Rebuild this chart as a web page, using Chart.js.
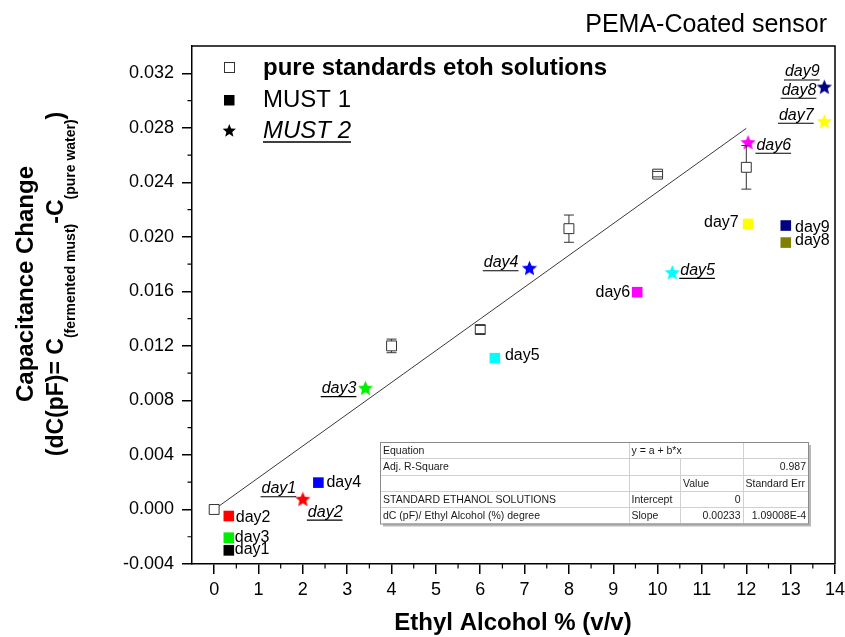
<!DOCTYPE html>
<html><head><meta charset="utf-8">
<script src="https://cdn.jsdelivr.net/npm/chart.js@4.4.0/dist/chart.umd.min.js"></script>
<style>html,body{margin:0;padding:0;background:#fff}#wrap{width:845px;height:637px;position:relative}</style>
</head><body><div id="wrap"><canvas id="c" width="845" height="637"></canvas></div>
<script>
// ---------- data ----------
const stdX   = [0, 4, 6, 8, 10, 12];
const stdY   = [0, 0.0120, 0.0132, 0.0206, 0.0246, 0.0251];
const stdErr = [0, 0.0005, 0.0003, 0.0010, 0.0002, 0.0016];
const fitX = [0, 12];
const fitY = [0, 0.02796];
const must1X = [0.33, 0.33, 0.33, 2.35, 6.33, 9.54, 12.04, 12.89, 12.89];
const must1Y = [-0.0030, -0.00207, -0.00048, 0.00197, 0.0111, 0.01594, 0.02095, 0.02083, 0.01958];
const must1Labels = ['day1', 'day3', 'day2', 'day4', 'day5', 'day6', 'day7', 'day9', 'day8'];
const must2X = [2.0, 3.41, 7.11, 10.33, 12.04, 13.76, 13.76];
const must2Y = [0.00075, 0.0089, 0.0177, 0.01738, 0.02692, 0.02846, 0.03099];
const must2Labels = ['day1', 'day2', 'day3', 'day4', 'day5', 'day6', 'day7', 'day8', 'day9'];
const must2LabelPoint = [0, 0, 1, 2, 3, 4, 5, 6, 6];
const xTicks = [0, 1, 2, 3, 4, 5, 6, 7, 8, 9, 10, 11, 12, 13, 14];
const yTicks = [-0.004, 0, 0.004, 0.008, 0.012, 0.016, 0.020, 0.024, 0.028, 0.032];
const seriesNames = ['pure standards etoh solutions', 'MUST 1', 'MUST 2'];
const tableRows = [
  ['Equation', 'y = a + b*x', '', ''],
  ['Adj. R-Square', '', '', '0.987'],
  ['', '', 'Value', 'Standard Err'],
  ['STANDARD ETHANOL SOLUTIONS', 'Intercept', '0', ''],
  ['dC (pF)/ Ethyl Alcohol (%) degree', 'Slope', '0.00233', '1.09008E-4']
];

// ---------- styles ----------
const must1Colors = ['#000000', '#00ee00', '#ff0000', '#0000ff', '#00ffff', '#ff00ff', '#ffff00', '#000080', '#808000'];
const must2Colors = ['#ff0000', '#00ee00', '#0000ff', '#00ffff', '#ff00ff', '#ffff00', '#000080'];
// label placement: [dx, dy(baseline), align]
const must1LabelPos = [[6,4,'left'],[6,4,'left'],[7,5.5,'left'],[8,4,'left'],[10,2,'left'],[-7,4.4,'right'],[-9.4,2.7,'right'],[9.3,6,'left'],[9.3,2.3,'left']];
const must2LabelPos = [[-6.6,-6,'right'],[5,17.4,'left'],[-9,5,'right'],[-11,-1,'right'],[8,2.3,'left'],[8.3,7.3,'left'],[-10.7,-1.7,'right'],[-8,7.7,'right'],[-4.7,-10.6,'right']];

const FONT = "'Liberation Sans', Arial, Helvetica, sans-serif";
Chart.defaults.font.family = FONT;
Chart.defaults.color = '#000';

function starPath(ctx, cx, cy, R, r) {
  ctx.beginPath();
  for (let i = 0; i < 10; i++) {
    const rad = i % 2 === 0 ? R : r;
    const a = -Math.PI / 2 + i * Math.PI / 5;
    const px = cx + rad * Math.cos(a), py = cy + rad * Math.sin(a);
    if (i === 0) ctx.moveTo(px, py); else ctx.lineTo(px, py);
  }
  ctx.closePath();
}
function makeStar(color) {
  const c = document.createElement('canvas');
  c.width = 17; c.height = 17;
  const g = c.getContext('2d');
  starPath(g, 8.5, 9, 8, 3.6);
  g.fillStyle = color; g.fill();
  return c;
}
const starImgs = must2Colors.map(makeStar);

const pts = (xs, ys) => xs.map((x, i) => ({ x: x, y: ys[i] }));

const framePlugin = {
  id: 'frame',
  beforeDatasetsDraw(chart) {
    const { ctx, chartArea: a, scales: { x, y } } = chart;
    ctx.save();
    ctx.strokeStyle = '#000';
    ctx.lineWidth = 1.5;
    ctx.beginPath();
    ctx.moveTo(a.left, a.top); ctx.lineTo(a.right, a.top); ctx.lineTo(a.right, a.bottom);
    ctx.stroke();
    // minor ticks
    ctx.lineWidth = 1.2;
    ctx.beginPath();
    for (let v = 0.5; v < 14; v += 1) {
      const px = x.getPixelForValue(v);
      ctx.moveTo(px, a.bottom); ctx.lineTo(px, a.bottom + 4.5);
    }
    for (let k = -1; k <= 15; k += 2) {
      const v = k * 0.002;
      const py = y.getPixelForValue(v);
      if (py <= a.top + 1) continue;
      ctx.moveTo(a.left, py); ctx.lineTo(a.left - 4.5, py);
    }
    ctx.stroke();
    ctx.restore();
  },
  afterDatasetsDraw(chart) {
    const { ctx, scales: { x, y } } = chart;
    ctx.save();
    // error bars
    ctx.strokeStyle = '#333'; ctx.lineWidth = 1;
    stdX.forEach((xv, i) => {
      if (!stdErr[i]) return;
      const px = x.getPixelForValue(xv), py = y.getPixelForValue(stdY[i]);
      const pt = y.getPixelForValue(stdY[i] + stdErr[i]), pb = y.getPixelForValue(stdY[i] - stdErr[i]);
      ctx.beginPath();
      if (py - pt > 5) { ctx.moveTo(px, pt); ctx.lineTo(px, py - 5); ctx.moveTo(px, py + 5); ctx.lineTo(px, pb); }
      ctx.moveTo(px - 5, pt); ctx.lineTo(px + 5, pt);
      ctx.moveTo(px - 5, pb); ctx.lineTo(px + 5, pb);
      ctx.stroke();
    });
    // point labels
    ctx.fillStyle = '#000';
    ctx.textBaseline = 'alphabetic';
    ctx.font = '16px ' + FONT;
    must1Labels.forEach((t, i) => {
      const p = must1LabelPos[i];
      ctx.textAlign = p[2];
      ctx.fillText(t, x.getPixelForValue(must1X[i]) + p[0], y.getPixelForValue(must1Y[i]) + p[1]);
    });
    ctx.font = 'italic 16px ' + FONT;
    ctx.strokeStyle = '#000'; ctx.lineWidth = 1.1;
    must2Labels.forEach((t, i) => {
      const j = must2LabelPoint[i], p = must2LabelPos[i];
      const tx = x.getPixelForValue(must2X[j]) + p[0], ty = y.getPixelForValue(must2Y[j]) + p[1];
      ctx.textAlign = p[2];
      ctx.fillText(t, tx, ty);
      const w = ctx.measureText(t).width;
      const x0 = p[2] === 'left' ? tx : tx - w;
      ctx.beginPath(); ctx.moveTo(x0 - 1, ty + 3.5); ctx.lineTo(x0 + w, ty + 3.5); ctx.stroke();
    });
    ctx.restore();
  },
  afterDraw(chart) {
    const ctx = chart.ctx;
    ctx.save();
    ctx.fillStyle = '#000';
    // top-right title
    ctx.font = '25px ' + FONT; ctx.textAlign = 'right'; ctx.textBaseline = 'alphabetic';
    ctx.fillText('PEMA-Coated sensor', 827, 32);
    // x title
    ctx.font = 'bold 24px ' + FONT; ctx.textAlign = 'center';
    ctx.fillText('Ethyl Alcohol % (v/v)', 513, 630);
    // y title line 1
    ctx.save();
    ctx.translate(0, 284); ctx.rotate(-Math.PI / 2);
    ctx.font = 'bold 24px ' + FONT; ctx.textAlign = 'center';
    ctx.fillText('Capacitance Change', 0, 33);
    ctx.restore();
    // y title line 2 with subscripts
    const parts = [['(dC(pF)= C', false], ['(fermented must)', true], ['-C', false], ['(pure water)', true], [')', false]];
    const mainF = 'bold 23px ' + FONT, subF = 'bold 14px ' + FONT;
    let total = 0;
    parts.forEach(p => { ctx.font = p[1] ? subF : mainF; total += ctx.measureText(p[0]).width; });
    ctx.save();
    ctx.translate(0, 284 + total / 2); ctx.rotate(-Math.PI / 2);
    ctx.textAlign = 'left';
    let u = 0;
    parts.forEach(p => {
      ctx.font = p[1] ? subF : mainF;
      ctx.fillText(p[0], u, p[1] ? 75 : 63);
      u += ctx.measureText(p[0]).width;
    });
    ctx.restore();
    // legend
    ctx.textAlign = 'left';
    ctx.strokeStyle = '#333'; ctx.lineWidth = 1;
    ctx.fillStyle = '#fff'; ctx.fillRect(224.5, 62.5, 10, 10); ctx.strokeRect(224.5, 62.5, 10, 10);
    ctx.fillStyle = '#000'; ctx.fillRect(224, 95, 10.5, 10.5);
    starPath(ctx, 229.3, 131, 7, 3.1); ctx.fill();
    ctx.font = 'bold 24px ' + FONT; ctx.fillText(seriesNames[0], 263, 75);
    ctx.font = '24px ' + FONT; ctx.fillText(seriesNames[1], 263, 107);
    ctx.font = 'italic 24px ' + FONT; ctx.fillText(seriesNames[2], 263, 138);
    const w2 = ctx.measureText(seriesNames[2]).width;
    ctx.strokeStyle = '#000'; ctx.lineWidth = 1.5;
    ctx.beginPath(); ctx.moveTo(263, 142); ctx.lineTo(263 + w2, 142); ctx.stroke();
    // table
    const L = 380, R = 808, T = 442, B = 523.5;
    const cols = [L, 628.5, 680, 742.5, R];
    const rh = (B - T) / tableRows.length;
    ctx.fillStyle = '#b8b8b8'; ctx.fillRect(L + 3, T + 3, R - L, B - T);
    ctx.fillStyle = '#fff'; ctx.fillRect(L, T, R - L, B - T);
    ctx.strokeStyle = '#d0d0d0'; ctx.lineWidth = 1;
    ctx.beginPath();
    for (let r = 1; r < tableRows.length; r++) { const yy = Math.round(T + r * rh) + 0.5; ctx.moveTo(L, yy); ctx.lineTo(R, yy); }
    for (let c = 1; c < 4; c++) {
      const xx = Math.round(cols[c]) + 0.5;
      const y0 = c === 2 ? T + rh : T;
      ctx.moveTo(xx, y0); ctx.lineTo(xx, B);
    }
    ctx.stroke();
    ctx.strokeStyle = '#8a8a8a'; ctx.strokeRect(L + 0.5, T + 0.5, R - L, B - T);
    ctx.font = '10.5px ' + FONT; ctx.fillStyle = '#1a1a1a';
    tableRows.forEach((row, r) => {
      const by = T + r * rh + rh / 2 + 4;
      row.forEach((t, c) => {
        if (!t) return;
        const rightAlign = /^[0-9.E-]+$/.test(t);
        if (rightAlign) { ctx.textAlign = 'right'; ctx.fillText(t, cols[c + 1] - 2, by); }
        else { ctx.textAlign = 'left'; ctx.fillText(t, cols[c] + 3, by); }
      });
    });
    ctx.restore();
  }
};

new Chart(document.getElementById('c'), {
  type: 'scatter',
  data: {
    datasets: [
      { label: 'fit', data: pts(fitX, fitY), showLine: true, borderColor: '#3a3a3a', borderWidth: 1, pointRadius: 0, order: 4 },
      { label: seriesNames[0], data: pts(stdX, stdY), pointStyle: 'rect', pointRadius: 7, backgroundColor: '#fff', borderColor: '#333', borderWidth: 1, order: 3 },
      { label: seriesNames[1], data: pts(must1X, must1Y), pointStyle: 'rect', pointRadius: 7.5, backgroundColor: must1Colors, borderWidth: 0, order: 2 },
      { label: seriesNames[2], data: pts(must2X, must2Y), pointStyle: starImgs, pointRadius: 8, order: 1 }
    ]
  },
  options: {
    responsive: false, animation: false, events: [],
    layout: { padding: { left: 0, right: 10, top: 46, bottom: 0 } },
    plugins: { legend: { display: false }, tooltip: { enabled: false } },
    scales: {
      x: {
        type: 'linear', min: -0.5, max: 14,
        afterBuildTicks: s => { s.ticks = xTicks.map(v => ({ value: v })); },
        afterFit: s => { s.height = 73; s.paddingLeft = 0; s.paddingRight = 0; },
        ticks: { font: { size: 18 }, padding: 5, color: '#000', maxRotation: 0, autoSkip: false, callback: v => String(v) },
        grid: { display: true, drawOnChartArea: false, drawTicks: true, tickLength: 10, color: '#000', lineWidth: 1.5 },
        border: { display: true, color: '#000', width: 1.5 }
      },
      y: {
        type: 'linear', min: -0.004, max: 0.034,
        afterBuildTicks: s => { s.ticks = yTicks.map(v => ({ value: v })); },
        afterFit: s => { s.width = 192; s.paddingTop = 0; s.paddingBottom = 0; },
        ticks: { font: { size: 18 }, padding: 8, color: '#000', autoSkip: false, callback: v => v.toFixed(3) },
        grid: { display: true, drawOnChartArea: false, drawTicks: true, tickLength: 10, color: '#000', lineWidth: 1.5 },
        border: { display: true, color: '#000', width: 1.5 }
      }
    }
  },
  plugins: [framePlugin]
});
</script>
</body></html>
